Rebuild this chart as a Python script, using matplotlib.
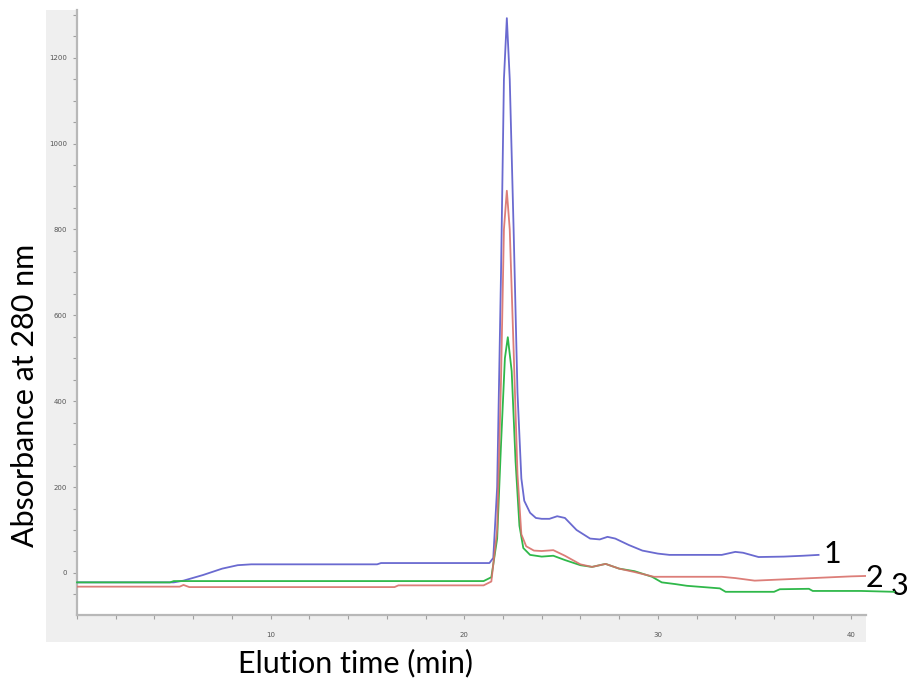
import matplotlib
matplotlib.use("Agg")
import matplotlib.pyplot as plt
from matplotlib.ticker import MultipleLocator

# ---- data (elution time in min, absorbance in mAU) ----
blue_t = [0, 5.0, 5.5, 6.5, 7.5, 8.3, 9.0, 15.5, 15.7, 21.3, 21.5, 21.7, 21.9, 22.05, 22.2,
          22.35, 22.55, 22.75, 22.95, 23.1, 23.4, 23.7, 24.0, 24.4, 24.8, 25.2, 25.8, 26.5,
          27.0, 27.4, 27.8, 28.5, 29.2, 30.0, 30.6, 33.3, 34.0, 34.4, 35.2, 36.5, 37.5, 38.3]
blue_v = [-22, -22, -18, -5, 10, 18, 20, 20, 23, 23, 35, 200, 700, 1150, 1292,
          1150, 800, 420, 220, 168, 140, 128, 126, 126, 132, 128, 100, 80,
          78, 84, 80, 65, 52, 45, 42, 42, 49, 47, 37, 38, 40, 42]

red_t = [0, 5.3, 5.5, 5.8, 16.4, 16.6, 21.0, 21.4, 21.7, 21.9, 22.05, 22.2, 22.35, 22.55,
         22.75, 22.95, 23.2, 23.6, 24.0, 24.6, 25.2, 26.0, 26.6, 27.3, 28.0, 28.8, 29.8,
         33.3, 34.0, 35.0, 36.5, 38.0, 40.0, 40.8]
red_v = [-32, -32, -28, -33, -33, -29, -29, -20, 100, 450, 800, 890, 800, 520,
         230, 90, 62, 52, 51, 53, 40, 20, 14, 21, 10, 2, -9,
         -9, -12, -18, -15, -12, -8, -7]

green_t = [0, 4.8, 5.0, 21.0, 21.4, 21.7, 21.9, 22.1, 22.25, 22.45, 22.65, 22.85, 23.05,
           23.4, 24.0, 24.6, 25.2, 26.0, 26.6, 27.3, 28.0, 28.8, 29.7, 30.2, 30.9, 31.5,
           33.2, 33.5, 36.0, 36.3, 37.8, 38.0, 40.5, 42.2]
green_v = [-22, -22, -19, -19, -10, 80, 300, 500, 549, 470, 260, 110, 58,
           42, 38, 40, 30, 18, 14, 21, 10, 4, -9, -22, -26, -30,
           -36, -44, -44, -38, -37, -42, -42, -44]

trace_labels = ["1", "2", "3"]
label_pos = [(39.0, 45), (41.2, -12), (42.5, -30)]

x_label = "Elution time (min)"
y_label = "Absorbance at 280 nm"

# ---- figure ----
W, H = 909, 684
fig = plt.figure(figsize=(W / 100, H / 100), dpi=100)
fig.patch.set_facecolor("white")

# grey frame panel behind axes
bg = fig.add_axes([46 / W, 1 - 642 / H, (866 - 46) / W, (642 - 10) / H], zorder=0)
bg.set_facecolor("#efefef")
bg.set_xticks([])
bg.set_yticks([])
for s in bg.spines.values():
    s.set_visible(False)

ax = fig.add_axes([77 / W, 1 - 615 / H, (866 - 77) / W, (615 - 10) / H], zorder=1)
ax.set_facecolor("white")
ax.set_xlim(0, 40.75)
ax.set_ylim(-98, 1311)

ax.plot(blue_t, blue_v, color="#6a6ad0", lw=1.3, zorder=3)
ax.plot(green_t, green_v, color="#2fb84a", lw=1.3, zorder=4, clip_on=False)
ax.plot(red_t, red_v, color="#d9706a", lw=1.3, zorder=5, alpha=0.9)

for lab, (tx, ty) in zip(trace_labels, label_pos):
    ax.text(tx, ty, lab, fontsize=22, family="Lato", color="black",
            ha="center", va="center", clip_on=False)

for s in ["top", "right"]:
    ax.spines[s].set_visible(False)
for s in ["left", "bottom"]:
    ax.spines[s].set_color("#b8b8b8")
    ax.spines[s].set_linewidth(1.6)

ax.xaxis.set_major_locator(MultipleLocator(10))
ax.xaxis.set_minor_locator(MultipleLocator(2))
ax.yaxis.set_major_locator(MultipleLocator(200))
ax.yaxis.set_minor_locator(MultipleLocator(50))
ax.set_xticks([10, 20, 30, 40])
ax.tick_params(axis="both", which="both", colors="#a0a0a0", labelcolor="#555555",
               labelsize=5, length=3, width=0.8)
ax.tick_params(axis="x", which="major", pad=9)
ax.tick_params(axis="y", which="major", pad=4)

fig.text(356 / W, 1 - 663 / H, x_label, fontsize=22, family="Lato",
         ha="center", va="center", color="black")
fig.text(25 / W, 1 - 395 / H, y_label, fontsize=22, family="Lato",
         ha="center", va="center", rotation=90, color="black")

fig.savefig("out.png", dpi=100)
